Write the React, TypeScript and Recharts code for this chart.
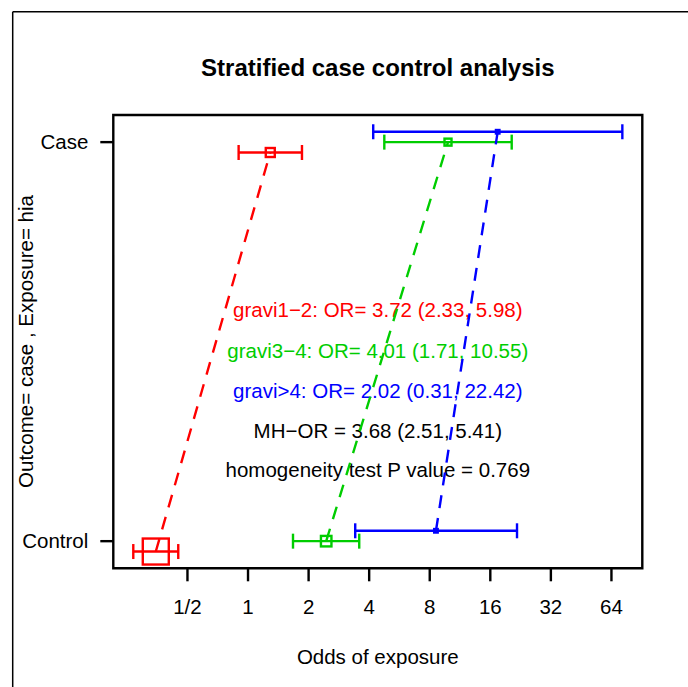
import React from 'react';
import {
  ScatterChart,
  Scatter,
  XAxis,
  YAxis,
  ErrorBar,
  ReferenceArea,
  Customized,
} from 'recharts';

// ---- data ----
const strata = ['gravi1−2', 'gravi3−4', 'gravi>4'];
const controlOdds = [0.348, 2.446, 8.59];
const controlLower = [0.269, 1.673, 3.41];
const controlUpper = [0.45, 3.57, 21.72];
const caseOdds = [1.29, 9.86, 17.41];
const caseLower = [0.898, 4.757, 4.19];
const caseUpper = [1.854, 20.44, 72.5];
const outcomeLabels = ['Control', 'Case'];
const xTicks = [0.5, 1, 2, 4, 8, 16, 32, 64];
const xTickLabels = ['1/2', '1', '2', '4', '8', '16', '32', '64'];
const stratumSummaries = [
  'gravi1−2: OR= 3.72 (2.33, 5.98)',
  'gravi3−4: OR= 4.01 (1.71, 10.55)',
  'gravi>4: OR= 2.02 (0.31, 22.42)',
];
const mhSummary = 'MH−OR = 3.68 (2.51, 5.41)';
const homogeneitySummary = 'homogeneity test P value = 0.769';
const title = 'Stratified case control analysis';
const xTitle = 'Odds of exposure';
const yTitle = 'Outcome= case , Exposure= hia';

// ---- styling / layout ----
const COLORS = ['#FF0000', '#00CD00', '#0000FF'];
const ROW_OFFSET = [-0.026, 0, 0.026]; // vertical stagger of strata
const BOX_PX = [
  [26, 9],
  [10.5, 7],
  [3.5, 3.5],
]; // [control, case] box side per stratum
const X_DOMAIN = [0.214, 91.1];
const Y_DOMAIN = [-0.068, 1.068];
const FONT = '"Liberation Sans", Arial, sans-serif';
const FS = 20.5;
const LW = 2.4;

const W = 688;
const H = 687;

const tables = strata.map((s, i) => [
  {
    x: controlOdds[i],
    y: 0 + ROW_OFFSET[i],
    err: [controlOdds[i] - controlLower[i], controlUpper[i] - controlOdds[i]],
    row: 0,
    stratum: i,
  },
  {
    x: caseOdds[i],
    y: 1 + ROW_OFFSET[i],
    err: [caseOdds[i] - caseLower[i], caseUpper[i] - caseOdds[i]],
    row: 1,
    stratum: i,
  },
]);

const makeShape = (si: number) => (props: any) => {
  const { cx, cy, payload } = props;
  if (cx == null || cy == null) return null;
  const s = BOX_PX[si][payload.row];
  return (
    <rect
      x={cx - s / 2}
      y={cy - s / 2}
      width={s}
      height={s}
      fill={si === 2 ? COLORS[si] : 'none'}
      stroke={COLORS[si]}
      strokeWidth={LW}
    />
  );
};

const Decorations = () => {
  const cx = 377.8;
  const textColors = [...COLORS, '#000', '#000'];
  const lines = [...stratumSummaries, mhSummary, homogeneitySummary];
  const baselines = [317.3, 357.8, 397.5, 438.2, 477];
  return (
    <g>
      <line x1={12.7} y1={11.7} x2={W} y2={11.7} stroke="#000" strokeWidth={1.5} />
      <line x1={12.7} y1={11.7} x2={12.7} y2={H} stroke="#000" strokeWidth={1.5} />
      <text
        x={cx}
        y={75.5}
        textAnchor="middle"
        fontFamily={FONT}
        fontWeight="bold"
        fontSize={24}
        fill="#000"
      >
        {title}
      </text>
      <text x={cx} y={664} textAnchor="middle" fontFamily={FONT} fontSize={FS} fill="#000">
        {xTitle}
      </text>
      <text
        x={33}
        y={341.5}
        transform="rotate(-90 33 341.5)"
        textAnchor="middle"
        fontFamily={FONT}
        fontSize={FS}
        fill="#000"
      >
        {yTitle}
      </text>
      {lines.map((t, i) => (
        <text
          key={i}
          x={cx}
          y={baselines[i]}
          textAnchor="middle"
          fontFamily={FONT}
          fontSize={FS}
          fill={textColors[i]}
        >
          {t}
        </text>
      ))}
    </g>
  );
};

export default function App() {
  return (
    <div style={{ position: 'absolute', left: 0, top: 0, width: W, height: H, background: '#fff' }}>
      <style>{`.recharts-errorBar line { stroke-width: ${LW}px; }`}</style>
      <ScatterChart
        width={W}
        height={H}
        margin={{ top: 115, left: 53.3, right: 45.7, bottom: 58.7 }}
        style={{ fontFamily: FONT }}
      >
        <XAxis
          type="number"
          dataKey="x"
          scale="log"
          domain={X_DOMAIN}
          allowDataOverflow
          ticks={xTicks}
          interval={0}
          tickFormatter={(v: number) => xTickLabels[xTicks.indexOf(v)] ?? String(v)}
          axisLine={false}
          tickLine={{ stroke: '#000', strokeWidth: LW }}
          tickSize={13}
          tickMargin={18.5}
          height={60}
          tick={{ fill: '#000', fontSize: FS, fontFamily: FONT }}
        />
        <YAxis
          type="number"
          dataKey="y"
          domain={Y_DOMAIN}
          allowDataOverflow
          ticks={[0, 1]}
          interval={0}
          tickFormatter={(v: number) => outcomeLabels[v] ?? ''}
          axisLine={false}
          tickLine={{ stroke: '#000', strokeWidth: LW }}
          tickSize={13}
          tickMargin={12}
          width={60}
          tick={{ fill: '#000', fontSize: FS, fontFamily: FONT }}
        />
        <ReferenceArea
          x1={X_DOMAIN[0]}
          x2={X_DOMAIN[1]}
          y1={Y_DOMAIN[0]}
          y2={Y_DOMAIN[1]}
          fill="none"
          fillOpacity={0}
          stroke="#000"
          strokeWidth={LW}
          ifOverflow="visible"
        />
        {tables.map((data, i) => (
          <Scatter
            key={strata[i]}
            name={strata[i]}
            data={data}
            isAnimationActive={false}
            line={{ stroke: COLORS[i], strokeWidth: LW, strokeDasharray: '13 10' }}
            lineType="joint"
            shape={makeShape(i)}
          >
            <ErrorBar
              dataKey="err"
              direction="x"
              width={7.5}
              stroke={COLORS[i]}
              strokeWidth={LW}
              isAnimationActive={false}
            />
          </Scatter>
        ))}
        <Customized component={Decorations} />
      </ScatterChart>
    </div>
  );
}
